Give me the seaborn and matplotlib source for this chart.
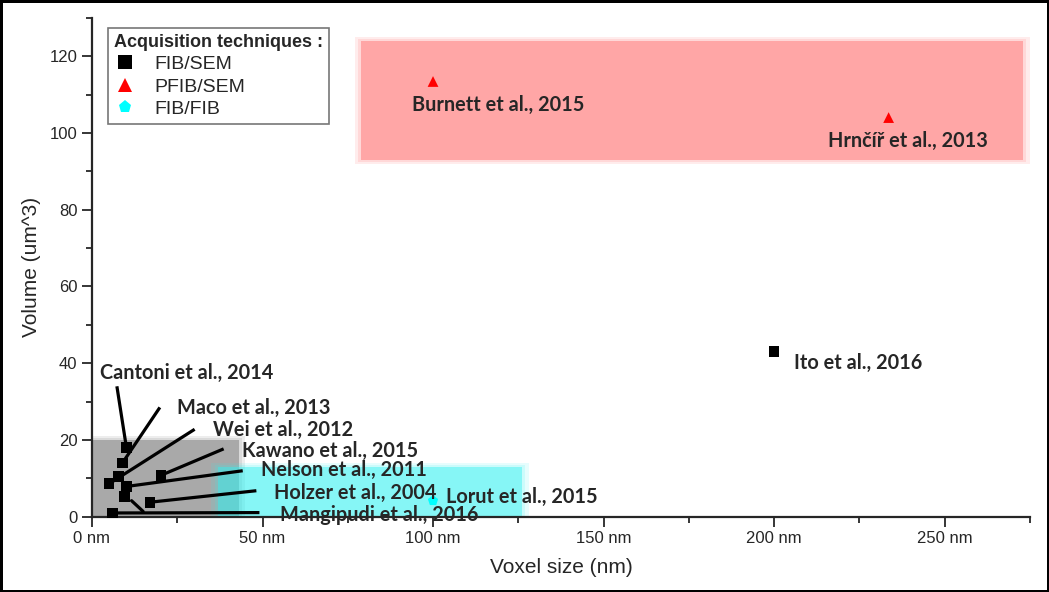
import pandas as pd
import seaborn as sns
import matplotlib.pyplot as plt
from matplotlib.patches import Rectangle
from matplotlib.ticker import FuncFormatter, MultipleLocator

# data
studies = ['Mangipudi et al., 2016', 'Cantoni et al., 2014', 'Maco et al., 2013',
           'Wei et al., 2012', 'Kawano et al., 2015', 'Nelson et al., 2011',
           'Holzer et al., 2004', '', '', 'Ito et al., 2016',
           'Burnett et al., 2015', 'Hrnčíř et al., 2013', 'Lorut et al., 2015']
voxel = [6.0, 10.1, 8.9, 5.0, 20.2, 10.1, 17.0, 9.6, 7.7, 200, 100, 233.6, 100]
volume = [1.0, 18.0, 14.0, 8.6, 10.8, 7.9, 3.8, 5.3, 10.5, 43, 113.4, 104, 4.2]
technique = ['FIB/SEM'] * 10 + ['PFIB/SEM'] * 2 + ['FIB/FIB']

# shaded zones: (x0, x1, y0, y1)
zones = {'FIB/SEM': (0, 43, 0, 20),
         'FIB/FIB': (37, 126, 0, 13),
         'PFIB/SEM': (79, 273, 93, 124)}
zone_colors = {'FIB/SEM': '#6e6e6e', 'FIB/FIB': '#33f0f0', 'PFIB/SEM': '#ff6a6a'}

df = pd.DataFrame({'voxel': voxel, 'volume': volume, 'technique': technique,
                   'study': studies})

# label text positions + leader line start (data units)
label_pos = {
    'Cantoni et al., 2014': (2.3, 37.5, (7.3, 34)),
    'Maco et al., 2013': (25, 28.3, (19.9, 28.5)),
    'Wei et al., 2012': (35.4, 22.6, (30.1, 22.8)),
    'Kawano et al., 2015': (44, 17.1, (38.6, 17.7)),
    'Nelson et al., 2011': (49.7, 12.1, (44.2, 12.0)),
    'Holzer et al., 2004': (53.5, 6.3, (48.2, 6.8)),
    'Mangipudi et al., 2016': (55, 0.6, (49.1, 1.1)),
    'Lorut et al., 2015': (103.8, 5.3, None),
    'Ito et al., 2016': (206, 40.1, None),
    'Burnett et al., 2015': (93.9, 107.4, None),
    'Hrnčíř et al., 2013': (215.8, 98.0, None),
}

sns.set_style('ticks')
plt.rcParams['font.family'] = ['Liberation Sans', 'DejaVu Sans']

fig = plt.figure(figsize=(10.49, 5.92), dpi=100, linewidth=2.5, edgecolor='black')
ax = fig.add_axes([0.0877, 0.127, 0.894, 0.843])

# soft-edged zones: a few stacked rectangles
for key, (x0, x1, y0, y1) in zones.items():
    for pad, a in [(2.0, 0.12), (1.0, 0.15), (0.0, 0.45)]:
        ax.add_patch(Rectangle((x0 - pad, y0 - pad * 0.5), x1 - x0 + 2 * pad,
                               y1 - y0 + pad, facecolor=zone_colors[key],
                               alpha=a, edgecolor='none', zorder=0))

# leader lines
for _, row in df.iterrows():
    if row.study and label_pos[row.study][2] is not None:
        sx, sy = label_pos[row.study][2]
        ax.plot([sx, row.voxel], [sy, row.volume], color='black', lw=2.3,
                solid_capstyle='butt', zorder=2, clip_on=False)
ax.plot([df.voxel[7] + 2, 15], [df.volume[7] - 1.1, 1.4], color='black', lw=2.3, zorder=2)

sns.scatterplot(data=df, x='voxel', y='volume', hue='technique', style='technique',
                hue_order=['FIB/SEM', 'PFIB/SEM', 'FIB/FIB'],
                palette={'FIB/SEM': 'black', 'PFIB/SEM': '#ff0000', 'FIB/FIB': '#00ffff'},
                markers={'FIB/SEM': 's', 'PFIB/SEM': '^', 'FIB/FIB': 'p'},
                s=60, linewidth=0, ax=ax, zorder=3, clip_on=False)

for name, (tx, ty, _) in label_pos.items():
    ax.text(tx, ty, name, fontsize=14.3, fontweight='bold', family='Lato',
            va='center', ha='left', zorder=4)

ax.set_xlim(0, 275)
ax.set_ylim(0, 130)
ax.xaxis.set_major_locator(MultipleLocator(50))
ax.xaxis.set_minor_locator(MultipleLocator(25))
ax.yaxis.set_major_locator(MultipleLocator(20))
ax.yaxis.set_minor_locator(MultipleLocator(10))
ax.xaxis.set_major_formatter(FuncFormatter(lambda v, p: f'{int(v)} nm'))
ax.tick_params(which='major', length=7, width=1.3, labelsize=12, direction='out')
ax.tick_params(which='minor', length=4.5, width=1.3, direction='out')
for sp in ['top', 'right']:
    ax.spines[sp].set_visible(False)
for sp in ['left', 'bottom']:
    ax.spines[sp].set_linewidth(1.6)

ax.set_xlabel('Voxel size (nm)', fontsize=15, labelpad=8)
ax.set_ylabel('Volume (um^3)', fontsize=15, labelpad=6)

handles, labels = ax.get_legend_handles_labels()
leg = ax.legend(handles, labels, title='Acquisition techniques :', loc='upper left',
                bbox_to_anchor=(0.017, 0.98), borderaxespad=0, fontsize=14,
                title_fontproperties={'weight': 'bold', 'size': 13},
                frameon=True, fancybox=False, edgecolor='#555555', borderpad=0.3,
                labelspacing=0.25, handlelength=1.2, handletextpad=0.9,
                markerscale=1.25)
leg._legend_box.align = 'left'
leg.get_frame().set_linewidth(1.2)

fig.savefig('out.png', dpi=100)
